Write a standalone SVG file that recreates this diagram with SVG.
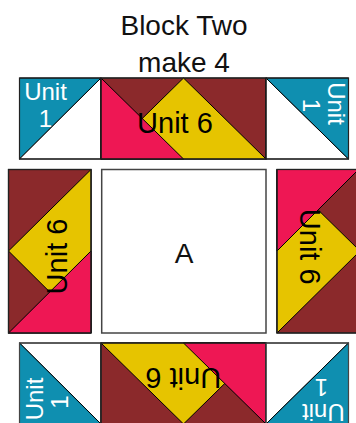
<svg xmlns="http://www.w3.org/2000/svg" width="356" height="423" viewBox="0 0 356 423">
<style>
.t{fill:#0f8fb0;stroke:#000;stroke-width:1}
.w{fill:#fff;stroke:#000;stroke-width:1}
.m{fill:#8b292b;stroke:#222;stroke-width:1.2}
.y{fill:#e6c400;stroke:#000;stroke-width:1}
.p{fill:#ee1754;stroke:#000;stroke-width:1}
.txt{font-family:"Liberation Sans",Arial,sans-serif;fill:#111}
.u1{font-family:"Liberation Sans",Arial,sans-serif;font-size:24px;fill:#fff;text-anchor:middle}
.u6{font-family:"Liberation Sans",Arial,sans-serif;font-size:29px;fill:#000;text-anchor:middle}
</style>
<rect width="356" height="423" fill="#fff"/>
<g id="title">
<text class="txt" x="184" y="35" font-size="28" text-anchor="middle">Block Two</text>
<text class="txt" x="184" y="71.5" font-size="28" text-anchor="middle">make 4</text>
</g>
<g id="top-left">
<polygon class="t" points="19.5,78 101,78 19.5,159"/>
<polygon class="w" points="101,78 101,159 19.5,159"/>
<rect x="19.5" y="78" width="81.5" height="81" fill="none" stroke="#222" stroke-width="1.2"/>
<text class="u1" x="45.5" y="100">Unit</text>
<text class="u1" x="45.5" y="126.5">1</text>
</g>
<g id="top-mid">
<rect class="m" x="101" y="78" width="165" height="81"/>
<polygon class="y" points="183.5,78 266,159 101,159"/>
<polygon class="p" points="101,78 101,159 183.5,159"/>
<rect x="101" y="78" width="165" height="81" fill="none" stroke="#222" stroke-width="1.2"/>
<text class="u6" x="175" y="132.7">Unit 6</text>
</g>
<g id="top-right">
<polygon class="w" points="266,78 266,159 348.5,159"/>
<polygon class="t" points="266,78 348.5,78 348.5,159"/>
<rect x="266" y="78" width="82.5" height="81" fill="none" stroke="#222" stroke-width="1.2"/>
<g transform="translate(327.8,103.5) rotate(90)">
<text class="u1" x="0" y="0">Unit</text>
<text class="u1" x="2" y="24.5">1</text>
</g>
</g>
<g id="mid-left">
<rect class="m" x="8.5" y="169.5" width="82.5" height="163.5"/>
<polygon class="y" points="91,169.5 91,333 8.5,251"/>
<polygon class="p" points="91,251 91,333 8.5,333"/>
<rect x="8.5" y="169.5" width="82.5" height="163.5" fill="none" stroke="#222" stroke-width="1.2"/>
<text class="u6" transform="translate(66.7,256.5) rotate(-90)" x="0" y="0">Unit 6</text>
</g>
<g id="center">
<rect x="101.7" y="169.5" width="164.3" height="163.5" fill="#fff" stroke="#444" stroke-width="1.5"/>
<text class="txt" x="184" y="263" font-size="28" text-anchor="middle">A</text>
</g>
<g id="mid-right">
<rect class="m" x="277" y="169.5" width="83" height="163.5"/>
<polygon class="y" points="277,169.5 360,251 277,333"/>
<polygon class="p" points="277,169.5 358.5,169.5 277,251"/>
<rect x="277" y="169.5" width="83" height="163.5" fill="none" stroke="#222" stroke-width="1.2"/>
<text class="u6" transform="translate(300,246.7) rotate(90)" x="0" y="0">Unit 6</text>
</g>
<g id="bottom-left">
<polygon class="w" points="19.5,343 101,343 101,424"/>
<polygon class="t" points="19.5,343 19.5,424 101,424"/>
<rect x="19.5" y="343" width="81.5" height="81" fill="none" stroke="#444" stroke-width="1.2"/>
<g transform="translate(42.7,399) rotate(-90)">
<text class="u1" x="0" y="0">Unit</text>
<text class="u1" x="-3" y="25.6">1</text>
</g>
</g>
<g id="bottom-mid">
<rect class="m" x="101" y="343" width="165" height="81"/>
<polygon class="y" points="101,343 266,343 183.5,424"/>
<polygon class="p" points="183.5,343 266,343 266,424"/>
<rect x="101" y="343" width="165" height="81" fill="none" stroke="#222" stroke-width="1.2"/>
<text class="u6" transform="translate(183.3,368.3) rotate(180)" x="0" y="0">Unit 6</text>
</g>
<g id="bottom-right">
<polygon class="w" points="266,343 348.5,343 266,424"/>
<polygon class="t" points="348.5,343 348.5,424 266,424"/>
<rect x="266" y="343" width="82.5" height="81" fill="none" stroke="#444" stroke-width="1.2"/>
<g transform="translate(323.3,404) rotate(180)">
<text class="u1" x="0" y="0">Unit</text>
<text class="u1" x="2" y="25">1</text>
</g>
</g>
</svg>
